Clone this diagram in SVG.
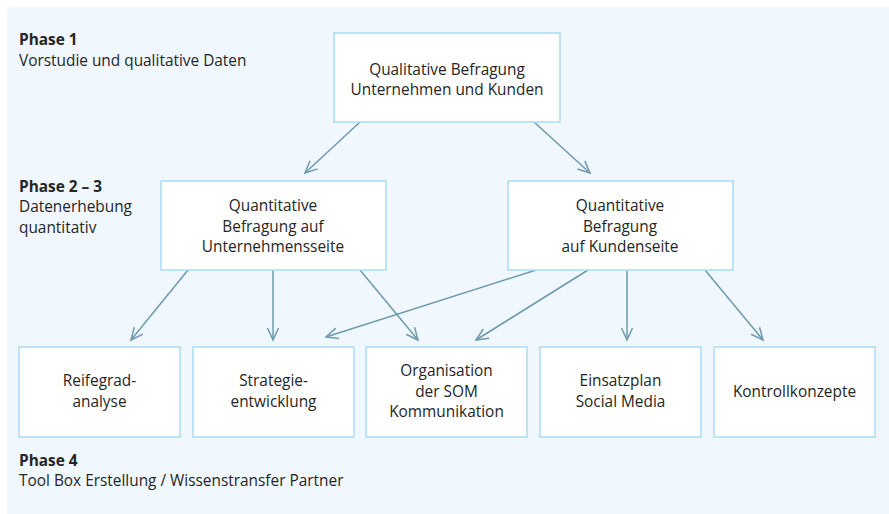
<svg xmlns="http://www.w3.org/2000/svg" width="889" height="514" viewBox="0 0 889 514">
<style>
.bg{fill:#f0f7fe}
.box{fill:#ffffff;stroke:#a9dbf5;stroke-width:1.5}
.t{font-family:"Open Sans","Noto Sans",sans-serif;font-size:15.4px;fill:#262626;text-anchor:middle}
.l{font-family:"Open Sans","Noto Sans",sans-serif;font-size:15.4px;fill:#262626}
.b{font-weight:bold}
.c{stroke:#6e9aae;stroke-width:1.5;fill:none}
</style>
<defs>
<marker id="ah" viewBox="-14 -7 16 14" markerWidth="16" markerHeight="14" refX="0" refY="0" orient="auto" markerUnits="userSpaceOnUse">
<path d="M-12,-5.5 L0,0 L-12,5.5" fill="none" stroke="#6e9aae" stroke-width="1.5"/>
</marker>
</defs>
<rect class="bg" x="7" y="7" width="882" height="507"/>
<g id="labels">
<text class="l b" x="19" y="45">Phase 1</text>
<text class="l" x="19" y="65.5">Vorstudie und qualitative Daten</text>
<text class="l b" x="19" y="191.5">Phase 2 – 3</text>
<text class="l" x="19" y="212">Datenerhebung</text>
<text class="l" x="19" y="232.5">quantitativ</text>
<text class="l b" x="19" y="465.5">Phase 4</text>
<text class="l" x="19" y="486">Tool Box Erstellung / Wissenstransfer Partner</text>
</g>
<g id="connectors">
<line class="c" x1="360" y1="122" x2="305" y2="173" marker-end="url(#ah)"/>
<line class="c" x1="534" y1="122" x2="590" y2="173" marker-end="url(#ah)"/>
<line class="c" x1="188" y1="270" x2="131" y2="340" marker-end="url(#ah)"/>
<line class="c" x1="273" y1="270" x2="273" y2="340" marker-end="url(#ah)"/>
<line class="c" x1="360" y1="270" x2="418" y2="340" marker-end="url(#ah)"/>
<line class="c" x1="536" y1="270" x2="326" y2="337" marker-end="url(#ah)"/>
<line class="c" x1="588" y1="270" x2="476" y2="340" marker-end="url(#ah)"/>
<line class="c" x1="627" y1="270" x2="627" y2="340" marker-end="url(#ah)"/>
<line class="c" x1="705" y1="270" x2="763" y2="340" marker-end="url(#ah)"/>
</g>
<g id="n-qual">
<rect class="box" x="334" y="33" width="226" height="89"/>
<text class="t" x="447" y="74.5">Qualitative Befragung</text>
<text class="t" x="447" y="95">Unternehmen und Kunden</text>
</g>
<g id="n-quant-u">
<rect class="box" x="161" y="181" width="225" height="89"/>
<text class="t" x="273" y="211">Quantitative</text>
<text class="t" x="273" y="231.5">Befragung auf</text>
<text class="t" x="273" y="252">Unternehmensseite</text>
</g>
<g id="n-quant-k">
<rect class="box" x="508" y="181" width="225" height="89"/>
<text class="t" x="620" y="211">Quantitative</text>
<text class="t" x="620" y="231.5">Befragung</text>
<text class="t" x="620" y="252">auf Kundenseite</text>
</g>
<g id="n-reife">
<rect class="box" x="19" y="347" width="161" height="90"/>
<text class="t" x="99.5" y="386">Reifegrad-</text>
<text class="t" x="99.5" y="406.5">analyse</text>
</g>
<g id="n-strat">
<rect class="box" x="193" y="347" width="161" height="90"/>
<text class="t" x="273.5" y="386">Strategie-</text>
<text class="t" x="273.5" y="406.5">entwicklung</text>
</g>
<g id="n-org">
<rect class="box" x="366" y="347" width="161" height="90"/>
<text class="t" x="446.5" y="376">Organisation</text>
<text class="t" x="446.5" y="396.5">der SOM</text>
<text class="t" x="446.5" y="417">Kommunikation</text>
</g>
<g id="n-einsatz">
<rect class="box" x="540" y="347" width="161" height="90"/>
<text class="t" x="620.5" y="386">Einsatzplan</text>
<text class="t" x="620.5" y="406.5">Social Media</text>
</g>
<g id="n-kontroll">
<rect class="box" x="714" y="347" width="161" height="90"/>
<text class="t" x="794.5" y="397">Kontrollkonzepte</text>
</g>
</svg>
